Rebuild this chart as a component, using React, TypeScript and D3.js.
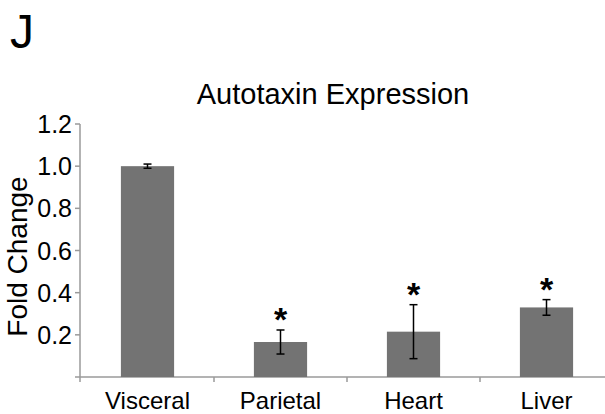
import { useEffect, useRef } from 'react';
import * as d3 from 'd3';

const categories = ['Visceral', 'Parietal', 'Heart', 'Liver'];
const foldChange = [1.0, 0.166, 0.215, 0.33];
const errors = [0.01, 0.057, 0.128, 0.037];
const significant = [false, true, true, true];
const yTicks = [0.2, 0.4, 0.6, 0.8, 1.0, 1.2];

const WIDTH = 605;
const HEIGHT = 414;
const FONT = '"Liberation Sans", Arial, Helvetica, sans-serif';
const AXIS = '#9a9a9a';

export default function App() {
  const ref = useRef<SVGSVGElement | null>(null);

  useEffect(() => {
    if (!ref.current) return;
    const svg = d3.select(ref.current);
    svg.selectAll('*').remove();

    const left = 80;
    const x = d3.scaleBand().domain(categories).range([left + 1, left + 1 + 133 * 4]).paddingInner(0.6).paddingOuter(0.3);
    const y = d3.scaleLinear().domain([0, 1.2]).range([377, 124]);

    svg.append('text')
      .attr('x', 10).attr('y', 48)
      .style('font-family', FONT).style('font-size', '48px')
      .text('J');

    svg.append('text')
      .attr('x', 333).attr('y', 104)
      .attr('text-anchor', 'middle')
      .style('font-family', FONT).style('font-size', '29px')
      .text('Autotaxin Expression');

    svg.append('text')
      .attr('transform', `translate(27,${(y(0) + y(1.2)) / 2 + 6}) rotate(-90)`)
      .attr('text-anchor', 'middle')
      .style('font-family', FONT).style('font-size', '28px')
      .text('Fold Change');

    // y axis
    svg.append('line')
      .attr('x1', left).attr('x2', left)
      .attr('y1', y(1.2)).attr('y2', y(0) + 5)
      .attr('stroke', AXIS).attr('stroke-width', 1.5);
    yTicks.forEach(t => {
      svg.append('line')
        .attr('x1', left - 5).attr('x2', left)
        .attr('y1', y(t)).attr('y2', y(t))
        .attr('stroke', AXIS).attr('stroke-width', 1.5);
      svg.append('text')
        .attr('x', left - 8).attr('y', y(t))
        .attr('dy', '0.36em')
        .attr('text-anchor', 'end')
        .style('font-family', FONT).style('font-size', '25px')
        .text(t.toFixed(1));
    });

    // x axis
    svg.append('line')
      .attr('x1', left - 5).attr('x2', WIDTH)
      .attr('y1', y(0)).attr('y2', y(0))
      .attr('stroke', AXIS).attr('stroke-width', 1.5);
    const step = x.step();
    categories.forEach((c, i) => {
      const bx = x(c)! + x.bandwidth() / 2 + step / 2;
      if (i < categories.length - 1) {
        svg.append('line')
          .attr('x1', bx).attr('x2', bx)
          .attr('y1', y(0)).attr('y2', y(0) + 5)
          .attr('stroke', AXIS).attr('stroke-width', 1.5);
      }
    });

    categories.forEach((c, i) => {
      const cx = x(c)! + x.bandwidth() / 2;
      svg.append('rect')
        .attr('x', x(c)!).attr('y', y(foldChange[i]))
        .attr('width', x.bandwidth()).attr('height', y(0) - y(foldChange[i]))
        .attr('fill', '#737373');

      const top = y(foldChange[i] + errors[i]);
      const bot = y(foldChange[i] - errors[i]);
      svg.append('line')
        .attr('x1', cx).attr('x2', cx).attr('y1', top).attr('y2', bot)
        .attr('stroke', '#000').attr('stroke-width', 1.5);
      [top, bot].forEach(v => {
        svg.append('line')
          .attr('x1', cx - 4).attr('x2', cx + 4).attr('y1', v).attr('y2', v)
          .attr('stroke', '#000').attr('stroke-width', 1.5);
      });

      if (significant[i]) {
        svg.append('text')
          .attr('x', cx).attr('y', top + 1)
          .attr('text-anchor', 'middle')
          .style('font-family', FONT).style('font-size', '34px').style('font-weight', 'bold')
          .text('*');
      }

      svg.append('text')
        .attr('x', cx).attr('y', 409)
        .attr('text-anchor', 'middle')
        .style('font-family', FONT).style('font-size', '24px')
        .text(c);
    });
  }, []);

  return (
    <svg
      ref={ref}
      width={WIDTH}
      height={HEIGHT}
      style={{ position: 'absolute', left: 0, top: 0, background: '#fff' }}
    />
  );
}
